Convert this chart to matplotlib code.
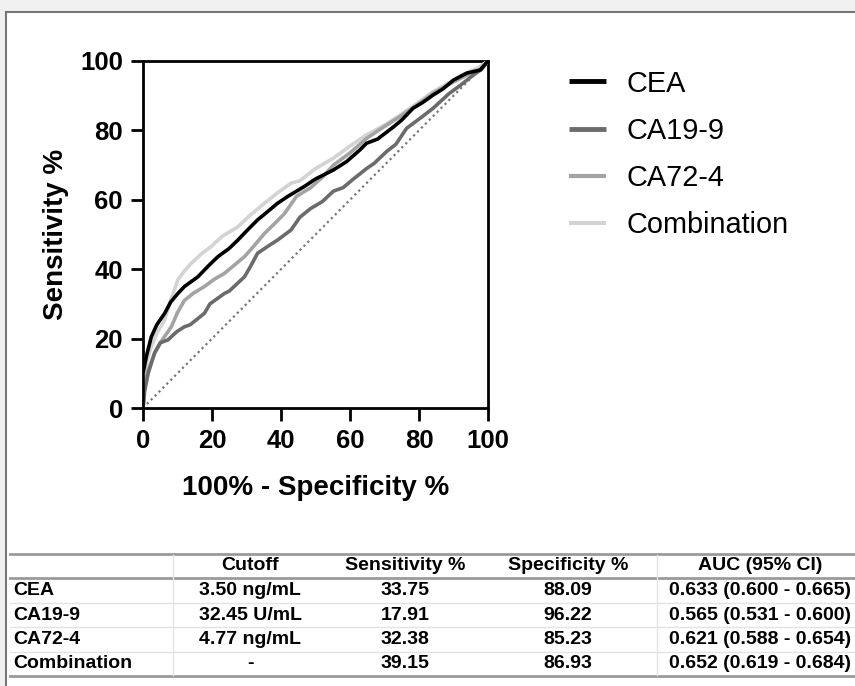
import matplotlib
matplotlib.use("Agg")
import matplotlib.pyplot as plt
from matplotlib.lines import Line2D
from matplotlib.patches import Rectangle

plt.rcParams['font.family'] = ['Liberation Sans', 'DejaVu Sans']

# ---------------- data ----------------
series_names = ["CEA", "CA19-9", "CA72-4", "Combination"]
series_colors = ["#000000", "#6b6b6b", "#a3a3a3", "#d3d3d3"]

cea_x = [0, 0, 1, 2.4, 4, 6.3, 8, 10.1, 12, 15.9, 19, 21.7, 25, 27.5, 30, 33.2, 36, 39, 42,
         46.7, 50, 55.2, 59, 62.9, 64.8, 68, 72.6, 75, 78.3, 81, 84.1, 87, 90, 93.8, 97.7, 100]
cea_y = [0, 10, 15, 20.5, 24, 27.3, 30.5, 33, 35, 37.8, 41, 43.6, 46, 48.4, 51, 54.2, 56.5, 59, 61,
         63.8, 66, 68.6, 71, 74.4, 76.3, 77.5, 81, 83, 86.4, 88, 90.2, 92, 94.5, 96.5, 97.4, 100]

ca199_x = [0, 0.5, 1.5, 3.4, 5, 7.2, 9.8, 12, 13.7, 17.8, 19.4, 23.6, 25, 29.4, 31, 33.2, 36.8, 39,
           42.9, 45.5, 48.6, 52, 55.2, 58, 61, 64.8, 67, 70.6, 73.3, 76.4, 81, 84.1, 88.7, 92, 95.8, 98, 100]
ca199_y = [0, 5, 10, 16, 18.8, 19.6, 22, 23.4, 24, 27.3, 30, 33, 33.7, 37.8, 40.5, 44.6, 47, 48.4,
           51.3, 55, 57.5, 59.5, 62.5, 63.5, 66, 69, 70.5, 73.9, 76, 80.6, 84, 86.4, 90.6, 93, 96, 97.5, 100]

ca724_x = [0, 0.5, 1.5, 3.4, 5.5, 8.2, 10, 12, 14.5, 17.8, 20.5, 23.6, 26.5, 29.4, 32, 35.2, 38, 41,
           44.5, 48.6, 52, 55.2, 60, 64.8, 69, 74.5, 79, 84.1, 90, 95, 98, 100]
ca724_y = [0, 7, 11, 15.8, 19.5, 23.4, 27.5, 31, 33, 35, 37, 38.8, 41.2, 43.6, 46.5, 50.3, 53, 56,
           61, 63.5, 66.5, 70, 73.5, 77.7, 80.5, 84, 87, 90.7, 94, 96.5, 97.5, 100]

comb_x = [0, 0, 1, 2.4, 4, 6.3, 8, 10.1, 12, 14, 17, 19.7, 23, 27.5, 31, 35.2, 39, 42.9, 45.5, 50,
          55.2, 60, 64.8, 70, 74.5, 79, 84.1, 90, 94.5, 97, 100]
comb_y = [0, 9, 13, 17.7, 21.5, 25.4, 31, 36.9, 39.5, 41.7, 44.5, 46.5, 49.5, 52.2, 55.5, 59, 62, 64.8,
          65.5, 69, 72, 75.5, 78.7, 81.5, 84.4, 87.5, 91.2, 94.5, 96.9, 98, 100]

diag_x = [0, 100]
diag_y = [0, 100]

ticks = [0, 20, 40, 60, 80, 100]

table_header = ["", "Cutoff", "Sensitivity %", "Specificity %", "AUC (95% CI)"]
table_rows = [
    ["CEA", "3.50 ng/mL", "33.75", "88.09", "0.633 (0.600 - 0.665)"],
    ["CA19-9", "32.45 U/mL", "17.91", "96.22", "0.565 (0.531 - 0.600)"],
    ["CA72-4", "4.77 ng/mL", "32.38", "85.23", "0.621 (0.588 - 0.654)"],
    ["Combination", "-", "39.15", "86.93", "0.652 (0.619 - 0.684)"],
]

# ---------------- figure ----------------
W, H = 855, 686
fig = plt.figure(figsize=(W / 100, H / 100), dpi=100, facecolor="#f0f0f0")


def fx(px):
    return px / W


def fy(py):
    return 1 - py / H


# white panel with grey border
panel = Rectangle((fx(6), -0.1), 1.2, fy(12) + 0.1, transform=fig.transFigure,
                  facecolor="white", edgecolor="#777777", lw=1.5, zorder=-5)
fig.add_artist(panel)

ax = fig.add_axes([fx(143), fy(408), fx(488) - fx(143), fy(61) - fy(408)])
ax.set_facecolor("white")

xs = [cea_x, ca199_x, ca724_x, comb_x]
ys = [cea_y, ca199_y, ca724_y, comb_y]
for i in [3, 2, 1, 0]:
    ax.plot(xs[i], ys[i], color=series_colors[i], lw=2.6, zorder=4 if i == 0 else 3)

ax.plot(diag_x, diag_y, color="#777777", lw=1.6, ls=(0, (1, 1.5)), zorder=2)

ax.set_xlim(0, 100)
ax.set_ylim(0, 100)
ax.set_xticks(ticks)
ax.set_yticks(ticks)
ax.set_xticklabels([str(t) for t in ticks], fontsize=18.5, fontweight="bold")
ax.set_yticklabels([str(t) for t in ticks], fontsize=18.5, fontweight="bold")
ax.tick_params(direction="out", length=9, width=2)
ax.tick_params(axis="x", pad=6)
ax.tick_params(axis="y", pad=5.5)
for s in ax.spines.values():
    s.set_linewidth(2)
ax.set_xlabel("100% - Specificity %", fontsize=20, fontweight="bold", labelpad=16)
ax.set_ylabel("Sensitivity %", fontsize=20, fontweight="bold", labelpad=8)

# legend
handles = [Line2D([0], [0], color=series_colors[i], lw=[3.5, 3.5, 3, 3][i],
                  solid_capstyle="butt") for i in range(4)]
fig.legend(handles, series_names, loc="upper left", bbox_to_anchor=(fx(557), fy(58)),
           frameon=False, fontsize=20.8, handlelength=1.3, handletextpad=0.72,
           labelspacing=0.665, borderaxespad=0)

# ---------------- table ----------------
line_x0, line_x1 = fx(10), 1.0
hlines = [(554, "#9a9a9a", 2.0), (578, "#9a9a9a", 2.0), (603, "#e3e3e3", 1.0),
          (627, "#e3e3e3", 1.0), (652, "#e3e3e3", 1.0), (676, "#9a9a9a", 2.0)]
for py, col, lw in hlines:
    fig.add_artist(Line2D([line_x0, line_x1], [fy(py), fy(py)], transform=fig.transFigure,
                          color=col, lw=lw))
for px in [173, 657]:
    fig.add_artist(Line2D([fx(px), fx(px)], [fy(555), fy(675)], transform=fig.transFigure,
                          color="#e3e3e3", lw=1.0))

col_centers = [250, 405, 568, 760]
row_centers = [590.5, 615, 639.5, 664]
for j, htxt in enumerate(table_header[1:]):
    fig.text(fx(col_centers[j]), fy(566), htxt, ha="center", va="center",
             fontsize=14, fontweight="bold")
for r, row in enumerate(table_rows):
    fig.text(fx(13), fy(row_centers[r]), row[0], ha="left", va="center",
             fontsize=14, fontweight="bold")
    for j, val in enumerate(row[1:]):
        fig.text(fx(col_centers[j]), fy(row_centers[r]), val, ha="center", va="center",
                 fontsize=14, fontweight="bold")

fig.savefig("out.png", dpi=100, facecolor=fig.get_facecolor())
